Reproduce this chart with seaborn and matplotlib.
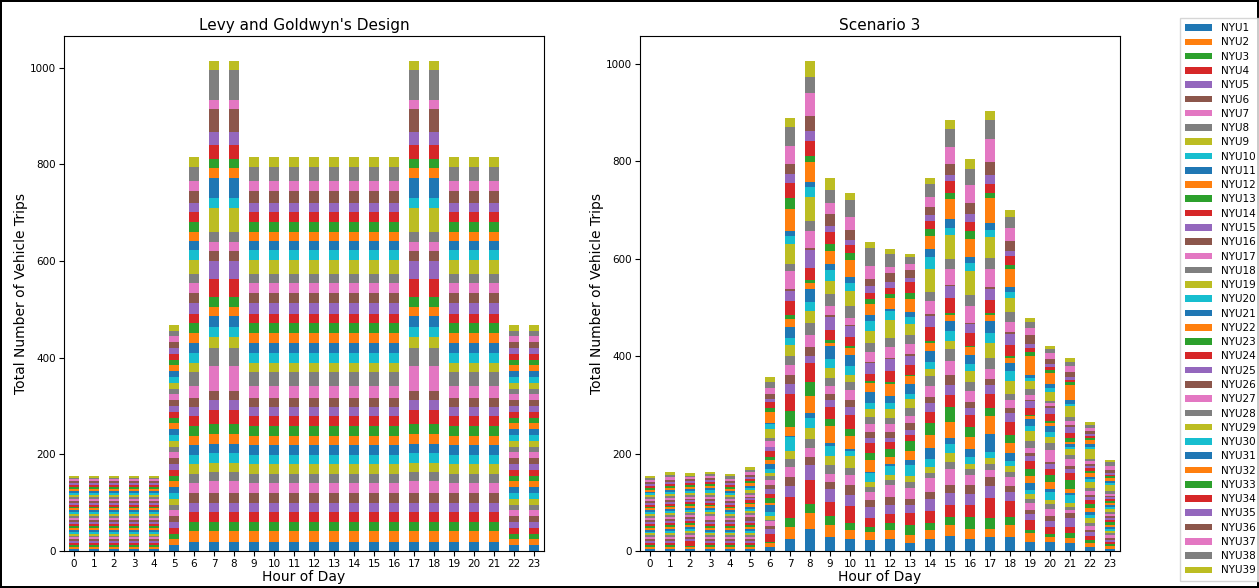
import matplotlib
matplotlib.use("Agg")
import matplotlib.pyplot as plt
from matplotlib.patches import Patch
import pandas as pd
import seaborn as sns

hours = list(range(24))
zones = [f"NYU{i}" for i in range(1, 40)]
tab10 = sns.color_palette("tab10", 10)
zone_colors = {z: tab10[i % 10] for i, z in enumerate(zones)}

# ---- Levy and Goldwyn's design: trips per zone (NYU1..NYU39) for each hour profile
lg_night = [4, 4, 4, 4, 4, 4, 4, 4, 4, 4, 4, 4, 4, 4, 4, 4, 4, 4, 4, 4,
            4, 4, 4, 4, 4, 4, 4, 4, 4, 4, 4, 4, 4, 4, 4, 4, 4, 4, 4]
lg_shoulder = [12, 12, 12, 12, 12, 12, 12, 12, 12, 12, 12, 12, 12, 12, 12, 12, 12, 12, 12, 12,
               12, 12, 12, 12, 12, 12, 12, 12, 12, 12, 12, 12, 12, 12, 12, 12, 12, 12, 12]
lg_day = [19, 22, 19, 20, 19, 20, 21, 19, 21, 19, 20, 19, 21, 20, 19, 19, 24, 29, 19, 20,
          22, 20, 20, 19, 23, 21, 20, 19, 29, 20, 19, 19, 21, 21, 19, 23, 21, 29, 21]
lg_peak = [19, 22, 19, 20, 19, 20, 25, 19, 20, 20, 19, 21, 20, 29, 20, 19, 51, 39, 21, 21,
           23, 19, 20, 37, 39, 19, 20, 21, 48, 22, 41, 20, 20, 29, 26, 47, 20, 62, 19]
lg_by_hour = [lg_night, lg_night, lg_night, lg_night, lg_night, lg_shoulder,
              lg_day, lg_peak, lg_peak, lg_day, lg_day, lg_day,
              lg_day, lg_day, lg_day, lg_day, lg_day, lg_peak,
              lg_peak, lg_day, lg_day, lg_day, lg_shoulder, lg_shoulder]

# ---- Scenario 3: trips per zone (NYU1..NYU39) for each hour
s3_h00 = [5, 4, 3, 4, 5, 4, 4, 4, 3, 4, 4, 4, 4, 4, 4, 4, 4, 4, 4, 4,
          4, 4, 3, 4, 4, 3, 4, 4, 5, 4, 3, 4, 4, 4, 4, 4, 4, 4, 5]
s3_h01 = [5, 4, 4, 4, 4, 4, 4, 4, 4, 5, 4, 4, 4, 4, 4, 4, 4, 4, 4, 4,
          4, 4, 3, 4, 4, 3, 4, 4, 5, 4, 4, 4, 4, 5, 4, 4, 5, 5, 6]
s3_h02 = [4, 4, 3, 10, 4, 4, 4, 4, 4, 4, 4, 4, 4, 4, 4, 4, 4, 4, 4, 4,
          4, 4, 3, 4, 4, 3, 4, 4, 4, 4, 4, 4, 4, 4, 4, 4, 4, 4, 5]
s3_h03 = [4, 4, 4, 4, 4, 4, 4, 4, 4, 4, 4, 4, 4, 4, 4, 4, 8, 4, 4, 4,
          4, 4, 3, 4, 4, 3, 4, 5, 5, 5, 4, 4, 4, 4, 4, 4, 5, 4, 5]
s3_h04 = [4, 4, 4, 4, 4, 4, 4, 4, 4, 4, 4, 4, 4, 4, 4, 4, 4, 4, 4, 4,
          4, 4, 3, 4, 4, 3, 4, 4, 5, 4, 4, 4, 4, 4, 4, 4, 5, 5, 5]
s3_h05 = [4, 5, 4, 4, 4, 4, 4, 4, 4, 4, 4, 5, 4, 4, 4, 7, 5, 4, 5, 4,
          4, 5, 3, 5, 4, 3, 5, 4, 6, 4, 4, 5, 4, 5, 4, 5, 5, 5, 5]
s3_h06 = [9, 7, 3, 16, 10, 7, 9, 3, 8, 9, 14, 3, 10, 10, 10, 7, 10, 10, 5, 9,
          9, 8, 8, 11, 8, 1, 12, 7, 18, 9, 3, 23, 8, 12, 7, 9, 12, 12, 12]
s3_h07 = [24, 25, 19, 42, 24, 18, 20, 16, 18, 28, 3, 18, 32, 36, 19, 19, 20, 19, 22, 15,
          23, 16, 8, 29, 20, 5, 36, 15, 41, 16, 10, 47, 21, 31, 18, 22, 36, 39, 18]
s3_h08 = [46, 31, 19, 49, 31, 17, 19, 18, 23, 21, 9, 36, 29, 37, 15, 19, 25, 25, 24, 19,
          25, 14, 6, 25, 36, 4, 34, 22, 49, 21, 10, 41, 13, 29, 22, 31, 47, 33, 33]
s3_h09 = [29, 25, 17, 29, 27, 15, 17, 18, 18, 21, 6, 34, 15, 24, 14, 14, 16, 16, 21, 18,
          26, 8, 5, 21, 27, 3, 18, 26, 27, 21, 14, 25, 16, 24, 12, 25, 23, 27, 24]
s3_h10 = [25, 18, 14, 36, 23, 19, 21, 14, 26, 10, 4, 26, 15, 28, 17, 14, 20, 17, 14, 18,
          23, 14, 5, 18, 23, 3, 14, 25, 29, 17, 12, 36, 14, 17, 10, 21, 25, 35, 14]
s3_h11 = [23, 16, 10, 19, 23, 14, 16, 11, 10, 18, 3, 24, 15, 19, 12, 12, 16, 15, 15, 12,
          23, 18, 5, 14, 22, 3, 21, 18, 25, 21, 12, 23, 10, 12, 15, 14, 27, 37, 12]
s3_h12 = [25, 18, 14, 19, 18, 16, 25, 10, 12, 18, 3, 16, 16, 14, 8, 12, 16, 14, 18, 12,
          14, 24, 5, 23, 24, 3, 22, 18, 37, 18, 5, 23, 8, 12, 12, 18, 14, 25, 11]
s3_h13 = [16, 17, 21, 25, 16, 12, 23, 12, 12, 23, 9, 19, 20, 14, 10, 14, 14, 17, 18, 10,
          21, 16, 3, 20, 19, 4, 21, 18, 23, 14, 10, 26, 12, 23, 8, 16, 14, 14, 5]
s3_h14 = [24, 19, 14, 25, 25, 14, 29, 10, 12, 16, 23, 27, 25, 22, 19, 12, 22, 21, 15, 14,
          22, 17, 4, 29, 22, 4, 27, 18, 48, 25, 16, 27, 14, 17, 12, 17, 19, 27, 12]
s3_h15 = [31, 23, 15, 25, 25, 16, 34, 14, 18, 19, 12, 32, 31, 25, 21, 21, 29, 23, 17, 20,
          21, 13, 4, 31, 24, 3, 31, 22, 48, 16, 18, 40, 13, 24, 12, 23, 36, 36, 19]
s3_h16 = [25, 20, 25, 25, 22, 19, 20, 12, 11, 15, 15, 25, 21, 24, 15, 12, 23, 19, 22, 14,
          18, 16, 3, 26, 19, 3, 34, 23, 49, 16, 12, 38, 15, 19, 16, 23, 38, 33, 19]
s3_h17 = [28, 17, 23, 40, 25, 18, 16, 12, 12, 12, 38, 36, 16, 30, 18, 12, 20, 23, 31, 21,
          24, 13, 4, 27, 21, 5, 38, 22, 43, 15, 14, 50, 12, 18, 18, 26, 48, 39, 19]
s3_h18 = [28, 25, 16, 34, 18, 12, 18, 12, 12, 10, 16, 21, 16, 27, 18, 10, 16, 14, 27, 20,
          17, 10, 3, 22, 23, 4, 21, 20, 30, 11, 12, 35, 9, 19, 10, 21, 27, 21, 15]
s3_h19 = [19, 17, 8, 19, 12, 10, 14, 8, 10, 9, 14, 15, 14, 16, 10, 7, 10, 13, 21, 10,
          14, 7, 3, 14, 14, 3, 10, 12, 17, 6, 5, 39, 8, 8, 10, 17, 15, 12, 8]
s3_h20 = [19, 9, 7, 15, 12, 10, 14, 11, 7, 18, 5, 14, 16, 12, 9, 5, 24, 14, 14, 10,
          12, 5, 5, 15, 11, 5, 5, 5, 18, 8, 8, 24, 5, 7, 5, 12, 11, 8, 7]
s3_h21 = [16, 10, 10, 14, 17, 12, 5, 7, 7, 16, 5, 9, 18, 15, 8, 5, 14, 9, 12, 5,
          5, 5, 7, 12, 11, 5, 8, 9, 21, 5, 7, 32, 5, 6, 5, 10, 12, 10, 7]
s3_h22 = [8, 8, 6, 8, 8, 6, 8, 6, 10, 6, 6, 8, 8, 8, 6, 6, 8, 6, 12, 5,
          5, 8, 4, 6, 5, 4, 5, 5, 20, 5, 6, 8, 4, 5, 4, 6, 5, 7, 5]
s3_h23 = [5, 5, 4, 4, 4, 5, 5, 4, 5, 4, 4, 5, 5, 4, 4, 4, 5, 4, 6, 4,
          4, 5, 3, 4, 4, 3, 5, 5, 12, 5, 4, 5, 4, 4, 4, 6, 8, 8, 4]
s3_by_hour = [s3_h00, s3_h01, s3_h02, s3_h03, s3_h04, s3_h05, s3_h06, s3_h07,
              s3_h08, s3_h09, s3_h10, s3_h11, s3_h12, s3_h13, s3_h14, s3_h15,
              s3_h16, s3_h17, s3_h18, s3_h19, s3_h20, s3_h21, s3_h22, s3_h23]


def to_long(rows):
    records = []
    for h, vals in zip(hours, rows):
        for z, v in zip(zones, vals):
            records.append({"hour": h, "zone": z, "trips": v})
    return pd.DataFrame(records)


def stacked_panel(ax, frame, title):
    # seaborn stacks the last hue level at the bottom, so reverse the order
    sns.histplot(data=frame, x="hour", weights="trips", hue="zone",
                 hue_order=zones[::-1], palette=zone_colors,
                 multiple="stack", discrete=True, shrink=0.5,
                 alpha=1, linewidth=0, legend=False, ax=ax)
    ax.set_xlim(-0.5, 23.5)
    ax.set_xticks(hours)
    ax.set_xticklabels([str(h) for h in hours])
    ax.set_yticks([0, 200, 400, 600, 800, 1000])
    ax.tick_params(labelsize=7.5, pad=2)
    ax.set_title(title, fontsize=11, pad=4)
    ax.set_xlabel("Hour of Day", fontsize=10, labelpad=1)
    ax.set_ylabel("Total Number of Vehicle Trips", fontsize=10, labelpad=1.5)


fig = plt.figure(figsize=(12.59, 5.88), dpi=100)
fig.patch.set_edgecolor("black")
fig.patch.set_linewidth(1.5)

ax1 = fig.add_axes([64 / 1259, 1 - 551 / 588, 480 / 1259, 515 / 588])
ax2 = fig.add_axes([640 / 1259, 1 - 551 / 588, 480 / 1259, 515 / 588])

stacked_panel(ax1, to_long(lg_by_hour), "Levy and Goldwyn's Design")
stacked_panel(ax2, to_long(s3_by_hour), "Scenario 3")

handles = [Patch(facecolor=zone_colors[z], edgecolor="none") for z in zones]
fig.legend(handles, zones, loc="upper left", bbox_to_anchor=(1180 / 1259, 1 - 18 / 588),
           borderaxespad=0, fontsize=7.5, labelspacing=0.41, handlelength=2.6,
           handleheight=0.6, handletextpad=0.8, borderpad=0.5, frameon=True,
           fancybox=False, edgecolor="#cccccc")

fig.savefig("out.png", dpi=100)
